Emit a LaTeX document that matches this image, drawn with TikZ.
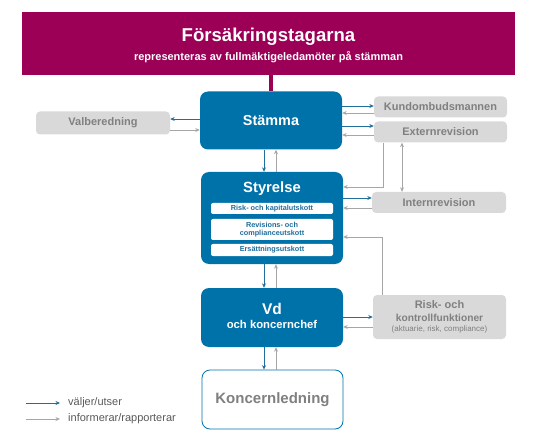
\documentclass[tikz,border=0pt]{standalone}
\usepackage{fontspec}
\setmainfont{Liberation Sans}
\usetikzlibrary{arrows.meta}
\definecolor{banner}{HTML}{9B0056}
\definecolor{boxblue}{HTML}{0072AA}
\definecolor{arrblue}{HTML}{1F6E9C}
\definecolor{greybox}{HTML}{D9D9D9}
\definecolor{greytext}{HTML}{808080}
\definecolor{arrgrey}{HTML}{A6A6A6}
\definecolor{legtext}{HTML}{595959}
\tikzset{
  bluebox/.style={fill=boxblue, draw=none, rounded corners=8pt, text=white, font=\bfseries, align=center, inner sep=0pt},
  greyb/.style={fill=greybox, draw=none, rounded corners=4pt, text=greytext, font=\bfseries, align=center, inner sep=0pt},
  innerb/.style={fill=white, draw=none, rounded corners=2pt, text=arrblue, font=\bfseries\fontsize{7.3}{8.2}\selectfont, align=center, inner sep=0pt, minimum width=122pt},
  barrow/.style={draw=arrblue, line width=0.9pt, -{Stealth[length=4.5pt,width=4pt]}},
  garrow/.style={draw=arrgrey, line width=0.9pt, -{Stealth[length=4.5pt,width=4pt]}},
  gdarrow/.style={draw=arrgrey, line width=0.9pt, {Stealth[length=4.5pt,width=4pt]}-{Stealth[length=4.5pt,width=4pt]}},
  gline/.style={draw=arrgrey, line width=0.9pt},
  legtxt/.style={text=legtext, font=\fontsize{11}{13}\selectfont, anchor=west, inner sep=0pt}
}
\begin{document}
\begin{tikzpicture}[x=1pt, y=-1pt]
\useasboundingbox (0,0) rectangle (537,443);
% banner
\node[fill=banner, minimum width=493pt, minimum height=63pt, inner sep=0pt, text=white, align=center] (banner) at (268.5,43.5) {};
\node[text=white, font=\bfseries\fontsize{18.6}{22}\selectfont, inner sep=0pt] (title) at (268.5,37) {Försäkringstagarna};
\node[text=white, font=\bfseries\fontsize{11}{13}\selectfont, inner sep=0pt] (subtitle) at (268.5,57) {representeras av fullmäktigeledamöter på stämman};
% main boxes
\node[bluebox, minimum width=142pt, minimum height=58pt, font=\bfseries\fontsize{14.4}{16}\selectfont] (stamma) at (271,120.5) {Stämma};
\node[bluebox, minimum width=142pt, minimum height=92pt] (styrelse) at (272,218) {};
\node[text=white, font=\bfseries\fontsize{14.8}{16}\selectfont, inner sep=0pt] (styrtitle) at (272,189) {Styrelse};
\node[innerb, minimum height=11pt] (u1) at (272,208.5) {Risk- och kapitalutskott};
\node[innerb, minimum height=21pt] (u2) at (272,229.5) {Revisions- och\\complianceutskott};
\node[innerb, minimum height=12pt] (u3) at (272,250) {Ersättningsutskott};
\node[bluebox, minimum width=142pt, minimum height=59pt] (vd) at (272,317.5) {};
\node[text=white, font=\bfseries\fontsize{15.5}{17}\selectfont, inner sep=0pt] (vdtitle) at (272,309) {Vd};
\node[text=white, font=\bfseries\fontsize{11.3}{13}\selectfont, inner sep=0pt] (vdsub) at (272,324) {och koncernchef};
\node[fill=white, draw=boxblue, line width=0.8pt, rounded corners=8pt, minimum width=141pt, minimum height=59pt, inner sep=0pt, text=greytext, font=\bfseries\fontsize{15}{17}\selectfont] (koncern) at (272.5,399.5) {Koncernledning};
% grey boxes
\node[greyb, minimum width=134pt, minimum height=23pt, font=\bfseries\fontsize{11}{13}\selectfont] (valb) at (103,123) {Valberedning};
\node[greyb, minimum width=133pt, minimum height=21pt, font=\bfseries\fontsize{11}{13}\selectfont] (kund) at (440.5,107) {Kundombudsmannen};
\node[greyb, minimum width=133pt, minimum height=21pt, font=\bfseries\fontsize{11}{13}\selectfont] (ext) at (440.5,132) {Externrevision};
\node[greyb, minimum width=134pt, minimum height=21pt, font=\bfseries\fontsize{11}{13}\selectfont] (intern) at (439,202.5) {Internrevision};
\node[greyb, minimum width=133pt, minimum height=44pt] (risk) at (439.5,317) {};
\node[text=greytext, font=\bfseries\fontsize{11}{13}\selectfont, inner sep=0pt] (risk1) at (439.5,304.5) {Risk- och};
\node[text=greytext, font=\bfseries\fontsize{10.2}{12}\selectfont, inner sep=0pt] (risk2) at (439.5,318) {kontrollfunktioner};
\node[text=greytext, font=\fontsize{8}{9}\selectfont, inner sep=0pt] (risk3) at (439.5,329.5) {(aktuarie, risk, compliance)};
% stem
\draw[banner, line width=4pt] (stamma.north) -- (stamma.north |- banner.south);
% connectors Stämma
\draw[barrow] (stamma.west |- 0,119) -- (valb.east |- 0,119);
\draw[garrow] (valb.east |- 0,130) -- (stamma.west |- 0,130);
\draw[barrow] (stamma.east |- 0,106) -- (kund.west |- 0,106);
\draw[garrow] (kund.west |- 0,113) -- (stamma.east |- 0,113);
\draw[barrow] (stamma.east |- 0,126) -- (ext.west |- 0,126);
\draw[garrow] (ext.west |- 0,135) -- (stamma.east |- 0,135);
% Stämma - Styrelse
\draw[barrow] (stamma.south -| 264,0) -- (styrelse.north -| 264,0);
\draw[garrow] (styrelse.north -| 276,0) -- (stamma.south -| 276,0);
% Externrevision
\draw[garrow] (ext.south -| 383,0) -- (383,187) -- (styrelse.east |- 0,187);
\draw[gdarrow] (ext.south -| 402,0) -- (intern.north -| 402,0);
% Styrelse - Internrevision
\draw[barrow] (styrelse.east |- 0,198) -- (intern.west |- 0,198);
\draw[garrow] (intern.west |- 0,208) -- (styrelse.east |- 0,208);
% Risk -> Styrelse
\draw[garrow] (risk.north -| 382,0) -- (382,237) -- (styrelse.east |- 0,237);
% Styrelse - Vd
\draw[barrow] (styrelse.south -| 264,0) -- (vd.north -| 264,0);
\draw[garrow] (vd.north -| 276,0) -- (styrelse.south -| 276,0);
% Vd - Risk
\draw[barrow] (vd.east |- 0,317) -- (risk.west |- 0,317);
\draw[garrow] (risk.west |- 0,327) -- (vd.east |- 0,327);
% Vd - Koncernledning
\draw[barrow] (vd.south -| 264,0) -- (koncern.north -| 264,0);
\draw[garrow] (koncern.north -| 276,0) -- (vd.south -| 276,0);
% legend
\coordinate (l1) at (26,403);
\coordinate (l1e) at (60,403);
\coordinate (l2) at (26,419);
\coordinate (l2e) at (60,419);
\node[legtxt] (leg1) at (68,403) {väljer/utser};
\node[legtxt] (leg2) at (68,419) {informerar/rapporterar};
\draw[barrow] (l1) -- (l1e);
\draw[garrow] (l2) -- (l2e);
\end{tikzpicture}
\end{document}
